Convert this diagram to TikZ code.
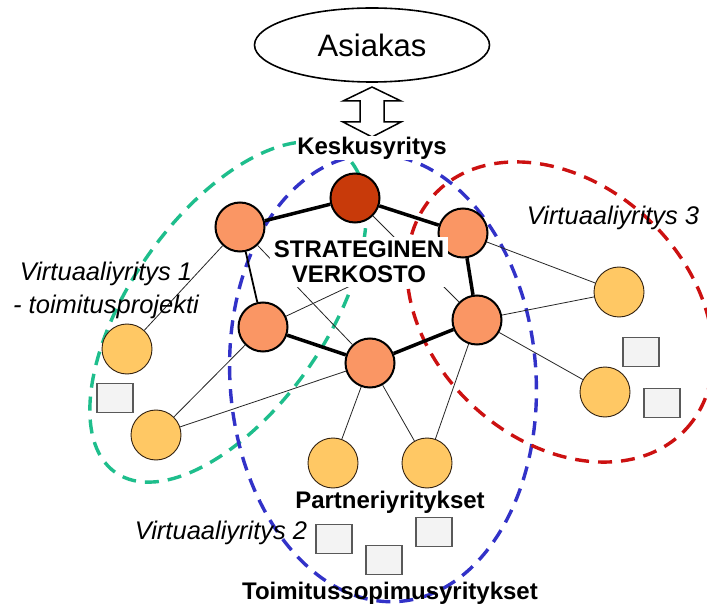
\documentclass[tikz,border=0pt]{standalone}
\usepackage{fontspec}
\setmainfont{Liberation Sans}
\usetikzlibrary{positioning,shapes.geometric}

\definecolor{hubred}{RGB}{200,58,10}
\definecolor{coreorange}{RGB}{250,150,100}
\definecolor{partyellow}{RGB}{255,200,100}
\definecolor{vgreen}{RGB}{30,190,140}
\definecolor{vblue}{RGB}{50,50,200}
\definecolor{vred}{RGB}{204,17,17}
\definecolor{boxgray}{RGB}{243,243,243}

\begin{document}
\begin{tikzpicture}[x=1pt, y=-1pt,
  core/.style={circle, draw, line width=2pt, fill=coreorange, minimum size=49pt, inner sep=0pt},
  partner/.style={circle, draw=black!75!brown, line width=0.9pt, fill=partyellow, minimum size=50pt, inner sep=0pt},
  subco/.style={rectangle, draw=black!65, line width=1.2pt, fill=boxgray, minimum width=36pt, minimum height=29pt, inner sep=0pt},
  strong/.style={line width=3.5pt},
  weak/.style={line width=0.8pt, black!85},
  virtual/.style={line width=3.4pt, dash pattern=on 14pt off 9pt},
  vlabel/.style={font=\fontsize{25.5}{33}\selectfont\itshape, align=center},
  blabel/.style={font=\fontsize{24}{25}\selectfont\bfseries, align=center}
]
\fill[white] (0,0) rectangle (707,612);
\useasboundingbox (0,0) rectangle (707,612);

% virtual companies
\draw[virtual, vgreen, rotate around={55:(228,312)}] (228,312) ellipse [x radius=196pt, y radius=98pt];
\draw[virtual, vblue, rotate around={4:(383,378)}] (383,378) ellipse [x radius=153pt, y radius=224pt];
\draw[virtual, vred, rotate around={-43:(560,312)}] (560,312) ellipse [x radius=172pt, y radius=128pt];

% customer
\node[ellipse, draw, line width=1.6pt, minimum width=235pt, minimum height=74pt,
  font=\fontsize{31}{31}\selectfont] (asiakas) at (372,45) {Asiakas};
\draw[fill=white, line width=1.5pt, shift={(372,112)}]
  (0,-25) -- (29,-11) -- (12,-11) -- (12,10) -- (29,10) -- (0,25)
  -- (-29,10) -- (-12,10) -- (-12,-11) -- (-29,-11) -- cycle;
\node[blabel, fill=white, inner sep=1pt] (keskus) at (372,148) {Keskusyritys};

% strategic network
\node[core, fill=hubred] (hub) at (355,198) {};
\node[core] (nw) at (240,227) {};
\node[core] (ne) at (463,233) {};
\node[core] (sw) at (263,327) {};
\node[core] (se) at (477,320) {};
\node[core] (s) at (370,363) {};

% partners
\node[partner] (w1) at (127,349) {};
\node[partner] (w2) at (156,435) {};
\node[partner] (e1) at (619,292) {};
\node[partner] (e2) at (605,392) {};
\node[partner] (s1) at (333,463) {};
\node[partner] (s2) at (427,463) {};

% subcontractors
\node[subco] (wbox) at (115,398) {};
\node[subco] (ebox1) at (641,352) {};
\node[subco] (ebox2) at (662,403) {};
\node[subco] (sbox1) at (334,539) {};
\node[subco] (sbox2) at (384,560) {};
\node[subco] (sbox3) at (434,532) {};

\draw[strong] (hub) -- (nw);
\draw[strong] (hub) -- (ne);
\draw[strong] (ne) -- (se);
\draw[strong] (se) -- (s);
\draw[strong] (s) -- (sw);
\draw[line width=1.8pt] (nw) -- (sw);

\draw[weak] (hub) -- (se);
\draw[weak] (nw) -- (s);
\draw[weak] (sw) -- (ne);
\draw[weak] (nw) -- (w1);
\draw[weak] (sw) -- (w2);
\draw[weak] (s) -- (w2);
\draw[weak] (ne) -- (e1);
\draw[weak] (se) -- (e1);
\draw[weak] (se) -- (e2);
\draw[weak] (s) -- (s1);
\draw[weak] (s) -- (s2);
\draw[weak] (se) -- (s2);

% labels
\node[vlabel] (v1) at (106,290) {Virtuaaliyritys 1\\- toimitusprojekti};
\node[vlabel] (v3) at (613,218) {Virtuaaliyritys 3};
\node[vlabel] (v2) at (221,533) {Virtuaaliyritys 2};
\node[blabel] (partners) at (390,502) {Partneriyritykset};
\node[blabel] (contract) at (390,593) {Toimitussopimusyritykset};
\node[blabel, fill=white, inner xsep=4pt, inner ysep=4pt] (strategic) at (359,262) {STRATEGINEN\\VERKOSTO};
\end{tikzpicture}
\end{document}
